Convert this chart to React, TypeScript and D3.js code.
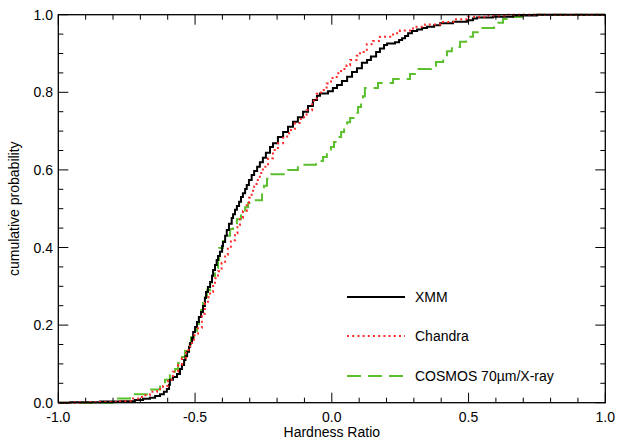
import React from "react";
import * as d3 from "d3";

// ---- data ----
const xmmX = [-1.0, -0.957, -0.848, -0.774, -0.72, -0.69, -0.665, -0.646, -0.628, -0.614, -0.603, -0.595, -0.592, -0.581, -0.566, -0.555, -0.548, -0.54, -0.535, -0.529, -0.522, -0.518, -0.511, -0.507, -0.5, -0.493, -0.486, -0.478, -0.471, -0.464, -0.46, -0.453, -0.445, -0.438, -0.434, -0.427, -0.421, -0.416, -0.409, -0.401, -0.398, -0.39, -0.384, -0.376, -0.366, -0.361, -0.354, -0.347, -0.339, -0.332, -0.325, -0.317, -0.311, -0.303, -0.293, -0.284, -0.273, -0.263, -0.252, -0.241, -0.226, -0.215, -0.197, -0.178, -0.16, -0.142, -0.124, -0.105, -0.087, -0.069, -0.054, -0.043, -0.014, 0.004, 0.019, 0.037, 0.056, 0.074, 0.092, 0.11, 0.129, 0.143, 0.162, 0.176, 0.191, 0.202, 0.231, 0.246, 0.257, 0.268, 0.279, 0.293, 0.312, 0.33, 0.348, 0.374, 0.396, 0.443, 0.494, 0.516, 0.531, 0.589, 0.663, 0.75, 1.0];
const xmmP = [0.0, 0.001, 0.003, 0.004, 0.007, 0.01, 0.013, 0.017, 0.022, 0.028, 0.035, 0.046, 0.059, 0.066, 0.074, 0.087, 0.097, 0.11, 0.12, 0.131, 0.144, 0.154, 0.167, 0.182, 0.195, 0.208, 0.221, 0.234, 0.249, 0.27, 0.285, 0.298, 0.311, 0.327, 0.342, 0.355, 0.368, 0.378, 0.389, 0.404, 0.414, 0.43, 0.445, 0.461, 0.476, 0.486, 0.497, 0.507, 0.518, 0.53, 0.54, 0.551, 0.561, 0.574, 0.587, 0.597, 0.608, 0.62, 0.631, 0.644, 0.659, 0.669, 0.685, 0.698, 0.711, 0.724, 0.736, 0.75, 0.765, 0.78, 0.791, 0.797, 0.803, 0.811, 0.819, 0.829, 0.84, 0.852, 0.862, 0.876, 0.883, 0.892, 0.904, 0.913, 0.922, 0.926, 0.929, 0.935, 0.939, 0.945, 0.952, 0.958, 0.962, 0.966, 0.969, 0.973, 0.978, 0.982, 0.986, 0.99, 0.993, 0.995, 0.998, 1.0, 1.0];

const chandraX = [-1.0, -0.921, -0.848, -0.774, -0.727, -0.694, -0.665, -0.639, -0.617, -0.599, -0.581, -0.562, -0.548, -0.533, -0.518, -0.504, -0.489, -0.475, -0.464, -0.453, -0.445, -0.434, -0.427, -0.416, -0.403, -0.39, -0.38, -0.369, -0.354, -0.345, -0.336, -0.325, -0.311, -0.303, -0.293, -0.284, -0.275, -0.263, -0.252, -0.233, -0.215, -0.197, -0.178, -0.156, -0.135, -0.113, -0.092, -0.072, -0.055, -0.039, -0.019, -0.003, 0.018, 0.034, 0.054, 0.067, 0.091, 0.103, 0.128, 0.151, 0.176, 0.224, 0.249, 0.297, 0.341, 0.396, 0.45, 0.498, 0.567, 0.633, 1.0];
const chandraP = [0.0, 0.001, 0.002, 0.004, 0.011, 0.019, 0.028, 0.035, 0.043, 0.059, 0.08, 0.097, 0.115, 0.136, 0.154, 0.174, 0.193, 0.229, 0.257, 0.272, 0.286, 0.306, 0.321, 0.339, 0.36, 0.381, 0.402, 0.419, 0.437, 0.458, 0.476, 0.494, 0.515, 0.528, 0.546, 0.561, 0.574, 0.592, 0.608, 0.63, 0.651, 0.669, 0.686, 0.703, 0.721, 0.736, 0.754, 0.778, 0.796, 0.806, 0.823, 0.837, 0.849, 0.86, 0.87, 0.883, 0.894, 0.904, 0.924, 0.932, 0.943, 0.952, 0.959, 0.969, 0.975, 0.981, 0.988, 0.995, 0.998, 1.0, 1.0];

const cosmosX = [-1.0, -0.8, -0.738, -0.676, -0.628, -0.61, -0.592, -0.573, -0.562, -0.548, -0.537, -0.526, -0.515, -0.504, -0.493, -0.486, -0.478, -0.471, -0.464, -0.456, -0.445, -0.438, -0.427, -0.416, -0.412, -0.398, -0.383, -0.372, -0.361, -0.347, -0.332, -0.317, -0.306, -0.284, -0.255, -0.248, -0.237, -0.222, -0.16, -0.124, -0.058, -0.032, -0.018, -0.003, 0.008, 0.019, 0.034, 0.045, 0.056, 0.067, 0.085, 0.096, 0.107, 0.114, 0.121, 0.169, 0.224, 0.286, 0.304, 0.363, 0.381, 0.407, 0.421, 0.439, 0.469, 0.491, 0.516, 0.538, 0.593, 0.626, 0.663, 0.695, 1.0];
const cosmosP = [0.0, 0.011, 0.022, 0.034, 0.046, 0.059, 0.071, 0.087, 0.102, 0.118, 0.133, 0.151, 0.169, 0.185, 0.203, 0.221, 0.239, 0.257, 0.272, 0.29, 0.309, 0.327, 0.347, 0.368, 0.399, 0.417, 0.43, 0.448, 0.458, 0.473, 0.489, 0.504, 0.515, 0.522, 0.54, 0.559, 0.577, 0.589, 0.6, 0.613, 0.623, 0.633, 0.646, 0.659, 0.672, 0.685, 0.698, 0.711, 0.723, 0.734, 0.747, 0.762, 0.778, 0.79, 0.811, 0.824, 0.834, 0.847, 0.86, 0.868, 0.878, 0.891, 0.906, 0.917, 0.93, 0.943, 0.955, 0.966, 0.979, 0.989, 0.994, 1.0, 1.0];

const xTickValues = [-1.0, -0.5, 0.0, 0.5, 1.0];
const yTickValues = [0.0, 0.2, 0.4, 0.6, 0.8, 1.0];
const legendLabels = ["XMM", "Chandra", "COSMOS 70\u00B5m/X-ray"];

export default function App() {
  const W = 617, H = 440;
  const L = 58.3, R = 605.3, T = 14.7, B = 402.7;
  const x = d3.scaleLinear().domain([-1, 1]).range([L, R]);
  const y = d3.scaleLinear().domain([0, 1]).range([B, T]);

  const mk = (xs: number[], ps: number[]) =>
    d3.line<number>().x((_, i) => x(xs[i])).y((_, i) => y(ps[i])).curve(d3.curveStepAfter)(xs.map((_, i) => i)) || "";

  const xMinor = d3.range(-10, 11).map((i) => i / 10);
  const yMinor = d3.range(0, 21).map((i) => i / 20);
  const isMajorX = (v: number) => Math.abs(v * 2 - Math.round(v * 2)) < 1e-6;
  const isMajorY = (v: number) => Math.abs(v * 5 - Math.round(v * 5)) < 1e-6;

  const font = "Liberation Sans, Arial, sans-serif";
  const axisColor = "#000";

  const series = [
    { d: mk(cosmosX, cosmosP), stroke: "#5cbf2e", dash: "14,7", w: 2 },
    { d: mk(xmmX, xmmP), stroke: "#000", dash: undefined, w: 2 },
    { d: mk(chandraX, chandraP), stroke: "#ff2a2a", dash: "2,3.2", w: 2 },
  ];

  const legend = [
    { stroke: "#000", dash: undefined, y: 297 },
    { stroke: "#ff2a2a", dash: "2,3.2", y: 336 },
    { stroke: "#5cbf2e", dash: "14,7", y: 376 },
  ];

  return (
    <svg width={W} height={H} style={{ position: "absolute", left: 0, top: 0, background: "#fff" }} fontFamily={font}>
      <defs>
        <clipPath id="plot">
          <rect x={L} y={T - 2} width={R - L} height={B - T + 4} />
        </clipPath>
      </defs>
      <g clipPath="url(#plot)">
        {series.map((s, i) => (
          <path key={i} d={s.d} fill="none" stroke={s.stroke} strokeWidth={s.w} strokeDasharray={s.dash} />
        ))}
      </g>
      {/* frame */}
      <rect x={L} y={T} width={R - L} height={B - T} fill="none" stroke={axisColor} strokeWidth={1.3} />
      {/* x ticks */}
      {xMinor.map((v, i) => {
        const len = isMajorX(v) ? 10 : 5;
        return (
          <g key={"xt" + i}>
            <line x1={x(v)} x2={x(v)} y1={B} y2={B - len} stroke={axisColor} strokeWidth={1} />
            <line x1={x(v)} x2={x(v)} y1={T} y2={T + len} stroke={axisColor} strokeWidth={1} />
          </g>
        );
      })}
      {yMinor.map((v, i) => {
        const len = isMajorY(v) ? 10 : 5;
        return (
          <g key={"yt" + i}>
            <line x1={L} x2={L + len} y1={y(v)} y2={y(v)} stroke={axisColor} strokeWidth={1} />
            <line x1={R} x2={R - len} y1={y(v)} y2={y(v)} stroke={axisColor} strokeWidth={1} />
          </g>
        );
      })}
      {xTickValues.map((v, i) => (
        <text key={"xl" + i} x={x(v)} y={422} textAnchor="middle" fontSize={14} fill="#000">
          {v.toFixed(1)}
        </text>
      ))}
      {yTickValues.map((v, i) => (
        <text key={"yl" + i} x={53} y={y(v) + 5} textAnchor="end" fontSize={14} fill="#000">
          {v.toFixed(1)}
        </text>
      ))}
      <text x={(L + R) / 2} y={436.5} textAnchor="middle" fontSize={14} fill="#000">
        Hardness Ratio
      </text>
      <text transform={`translate(19, ${(T + B) / 2}) rotate(-90)`} textAnchor="middle" fontSize={14} fill="#000">
        cumulative probability
      </text>
      {legend.map((l, i) => (
        <g key={"lg" + i}>
          <line x1={347} x2={405} y1={l.y} y2={l.y} stroke={l.stroke} strokeWidth={2} strokeDasharray={l.dash} />
          <text x={415} y={l.y + 5} fontSize={14} fill="#000">
            {legendLabels[i]}
          </text>
        </g>
      ))}
    </svg>
  );
}
